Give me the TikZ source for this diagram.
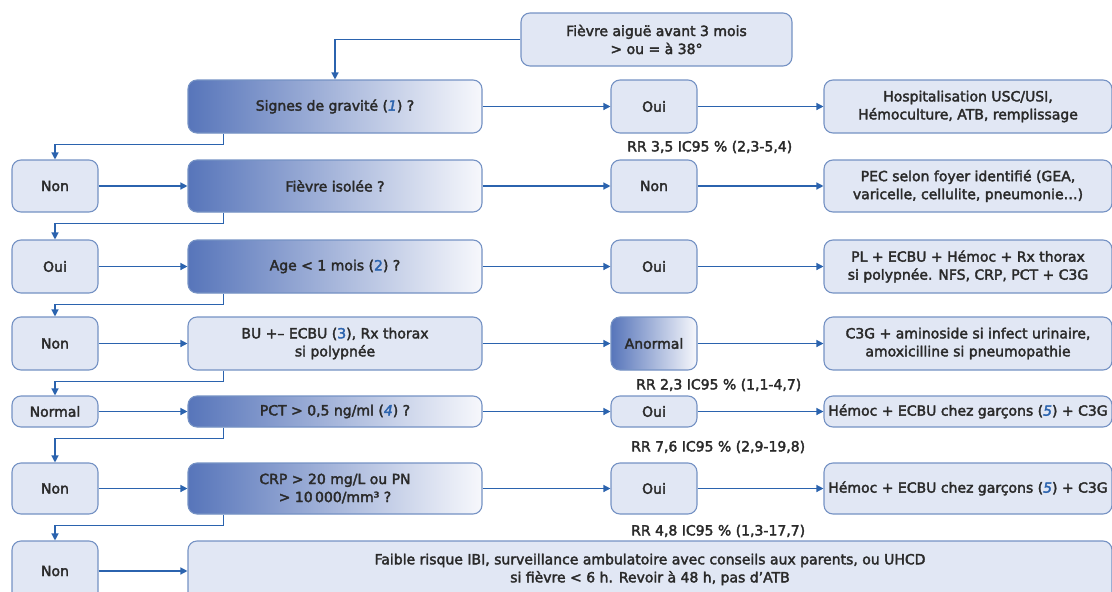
\documentclass[tikz,border=0pt]{standalone}
\usepackage{fontspec}
\setmainfont{DejaVu Sans}
\usetikzlibrary{arrows.meta}
\definecolor{fillc}{HTML}{E1E7F4}
\definecolor{bordc}{HTML}{7592C4}
\definecolor{arrc}{HTML}{2B63AE}
\definecolor{gradl}{HTML}{5775BA}
\definecolor{gradr}{HTML}{F7F8FC}
\definecolor{numc}{HTML}{2B63AE}
\definecolor{txtc}{HTML}{2A2A2A}
\newcommand{\heavytxt}{\special{pdf:literal direct 2 Tr 0.35 w}}
\newcommand{\numi}[1]{\textcolor{numc}{\textit{#1}}}
\newcommand{\numu}[1]{\textcolor{numc}{#1}}
\tikzset{
  box/.style={draw=bordc, line width=1.1pt, rounded corners=9pt, fill=fillc,
    align=center, font=\fontsize{14}{18}\selectfont\heavytxt, text=txtc, inner sep=0pt},
  gbox/.style={box, left color=gradl, right color=gradr},
  arr/.style={draw=arrc, line width=1.3pt, -{Triangle[length=7pt,width=7pt]}},
  rr/.style={anchor=west, font=\fontsize{14}{16}\selectfont\heavytxt, text=txtc, inner sep=0pt},
}
\begin{document}
\begin{tikzpicture}[x=1pt,y=-1pt]
\useasboundingbox (0,0) rectangle (1112,592);
% top
\node[box, minimum width=271pt, minimum height=53pt] (top) at (656.5,39.5) {Fièvre aiguë avant 3 mois\\> ou = à 38°};
% row 1
\node[gbox, minimum width=294pt, minimum height=53pt] (b1) at (335,106.5) {Signes de gravité (\numi{1}) ?};
\node[box, minimum width=86pt, minimum height=53pt] (c1) at (654,106.5) {Oui};
\node[box, minimum width=288pt, minimum height=53pt] (d1) at (968,106.5) {Hospitalisation USC/USI,\\Hémoculture, ATB, remplissage};
\node[rr] (rr1) at (627,147) {RR 3,5 IC95 \% (2,3-5,4)};
% row 2
\node[box, minimum width=86pt, minimum height=52pt] (a2) at (55,186) {Non};
\node[gbox, minimum width=294pt, minimum height=52pt] (b2) at (335,186) {Fièvre isolée ?};
\node[box, minimum width=86pt, minimum height=52pt] (c2) at (654,186) {Non};
\node[box, minimum width=288pt, minimum height=52pt] (d2) at (968,186) {PEC selon foyer identifié (GEA,\\varicelle, cellulite, pneumonie…)};
% row 3
\node[box, minimum width=86pt, minimum height=53pt] (a3) at (55,266.5) {Oui};
\node[gbox, minimum width=294pt, minimum height=53pt] (b3) at (335,266.5) {Age < 1 mois (\numu{2}) ?};
\node[box, minimum width=86pt, minimum height=53pt] (c3) at (654,266.5) {Oui};
\node[box, minimum width=288pt, minimum height=53pt] (d3) at (968,266.5) {PL + ECBU + Hémoc + Rx thorax\\si polypnée. NFS, CRP, PCT + C3G};
% row 4
\node[box, minimum width=86pt, minimum height=53pt] (a4) at (55,343.5) {Non};
\node[box, minimum width=294pt, minimum height=53pt] (b4) at (335,343.5) {BU +– ECBU (\numu{3}), Rx thorax\\si polypnée};
\node[gbox, minimum width=86pt, minimum height=53pt] (c4) at (654,343.5) {Anormal};
\node[box, minimum width=288pt, minimum height=53pt] (d4) at (968,343.5) {C3G + aminoside si infect urinaire,\\amoxicilline si pneumopathie};
\node[rr] (rr4) at (636,385) {RR 2,3 IC95 \% (1,1-4,7)};
% row 5
\node[box, minimum width=86pt, minimum height=31pt] (a5) at (55,411.5) {Normal};
\node[gbox, minimum width=294pt, minimum height=31pt] (b5) at (335,411.5) {PCT > 0,5 ng/ml (\numi{4}) ?};
\node[box, minimum width=86pt, minimum height=31pt] (c5) at (654,411.5) {Oui};
\node[box, minimum width=288pt, minimum height=31pt] (d5) at (968,411.5) {Hémoc + ECBU chez garçons (\numi{5}) + C3G};
\node[rr] (rr5) at (631,447) {RR 7,6 IC95 \% (2,9-19,8)};
% row 6
\node[box, minimum width=86pt, minimum height=51pt] (a6) at (55,488.5) {Non};
\node[gbox, minimum width=294pt, minimum height=51pt] (b6) at (335,488.5) {CRP > 20 mg/L ou PN\\> 10\,000/mm³ ?};
\node[box, minimum width=86pt, minimum height=51pt] (c6) at (654,488.5) {Oui};
\node[box, minimum width=288pt, minimum height=51pt] (d6) at (968,488.5) {Hémoc + ECBU chez garçons (\numi{5}) + C3G};
\node[rr] (rr6) at (631,531) {RR 4,8 IC95 \% (1,3-17,7)};
% row 7
\node[box, minimum width=86pt, minimum height=60pt] (a7) at (55,571) {Non};
\node[box, minimum width=924pt, minimum height=60pt, text depth=6pt] (b7) at (650,571) {Faible risque IBI, surveillance ambulatoire avec conseils aux parents, ou UHCD\\si fièvre < 6 h. Revoir à 48 h, pas d’ATB};
% connectors
\draw[arr] (top.west) -| (b1.north);
\foreach \r in {1,...,6} {
  \draw[arr] (b\r.east) -- (c\r.west);
  \draw[arr] (c\r.east) -- (d\r.west);
}
\foreach \r in {2,...,7} {
  \draw[arr] (a\r.east) -- (b\r.west);
}
\foreach \r/\n in {1/2,2/3,3/4,4/5,5/6,6/7} {
  \draw[arr] ([xshift=36pt]b\r.south west) -- ++(0pt,-11pt) -| (a\n.north);
}
\end{tikzpicture}
\end{document}
